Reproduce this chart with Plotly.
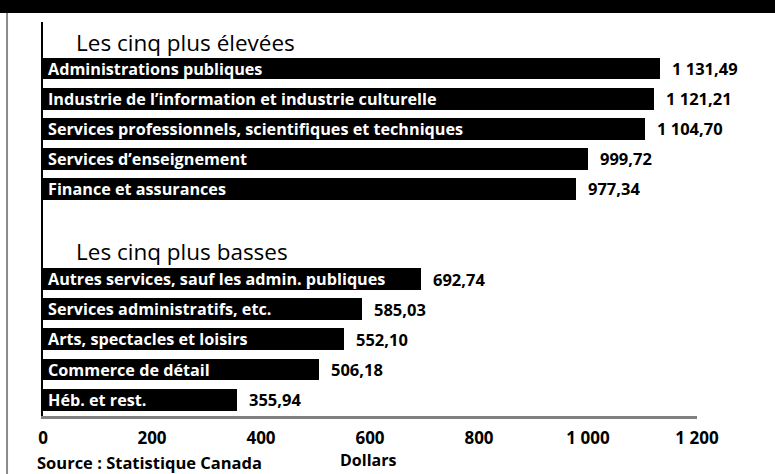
import plotly.graph_objects as go

# Data
top_labels = [
    "Administrations publiques",
    "Industrie de l’information et industrie culturelle",
    "Services professionnels, scientifiques et techniques",
    "Services d’enseignement",
    "Finance et assurances",
]
top_values = [1131.49, 1121.21, 1104.70, 999.72, 977.34]

low_labels = [
    "Autres services, sauf les admin. publiques",
    "Services administratifs, etc.",
    "Arts, spectacles et loisirs",
    "Commerce de détail",
    "Héb. et rest.",
]
low_values = [692.74, 585.03, 552.10, 506.18, 355.94]

group_titles = ["Les cinq plus élevées", "Les cinq plus basses"]
tick_values = [0, 200, 400, 600, 800, 1000, 1200]
x_title = "Dollars"
source = "Source : Statistique Canada"


def fr(v):
    s = f"{v:,.2f}"
    return s.replace(",", " ").replace(".", ",")


FONT = "Open Sans"
labels = top_labels + low_labels
values = top_values + low_values
ypos = list(range(len(top_labels))) + [i + len(top_labels) + 2 for i in range(len(low_labels))]

fig = go.Figure()
fig.add_trace(go.Bar(
    x=values, y=ypos, orientation="h", width=0.73,
    marker=dict(color="black", line=dict(width=0)),
    hoverinfo="skip", showlegend=False,
))

annotations = []
for lab, v, y in zip(labels, values, ypos):
    annotations.append(dict(
        x=0, y=y, xref="x", yref="y", text=lab, showarrow=False,
        xanchor="left", yanchor="middle", xshift=4, borderpad=0,
        font=dict(family=FONT, size=16.2, color="white", weight=700),
    ))
    annotations.append(dict(
        x=v, y=y, xref="x", yref="y", text=fr(v), showarrow=False,
        xanchor="left", yanchor="middle", xshift=10,
        font=dict(family=FONT, size=16.5, color="black", weight=700),
    ))

title_y = [-0.86, len(top_labels) + 1.08]
for t, ty in zip(group_titles, title_y):
    annotations.append(dict(
        x=0, y=ty, xref="x", yref="y", text=t, showarrow=False,
        xanchor="left", yanchor="middle", xshift=32, borderpad=0,
        font=dict(family=FONT, size=22.5, color="black", weight=400),
    ))

annotations.append(dict(
    x=0.497, y=-0.112, xref="paper", yref="paper", text=x_title, showarrow=False,
    xanchor="center", yanchor="middle",
    font=dict(family=FONT, size=16, color="black", weight=700),
))
annotations.append(dict(
    x=-0.012, y=-0.117, xref="paper", yref="paper", text=source, showarrow=False,
    xanchor="left", yanchor="middle",
    font=dict(family=FONT, size=16.5, color="black", weight=700),
))

shapes = [
    # black header band
    dict(type="rect", xref="paper", yref="paper", x0=-0.07, x1=1.13, y0=1.023, y1=1.08,
         fillcolor="black", line=dict(width=0), layer="above"),
    # left frame line
    dict(type="line", xref="paper", yref="paper", x0=-0.055, x1=-0.055, y0=1.023, y1=-0.2,
         line=dict(color="#8a8a8a", width=2)),
]

fig.update_layout(
    width=775, height=474,
    margin=dict(l=43, r=78, t=22, b=58),
    paper_bgcolor="white", plot_bgcolor="white",
    separators=", ",
    bargap=0,
    xaxis=dict(
        range=[0, 1200], tickvals=tick_values, separatethousands=True,
        showgrid=False, zeroline=False,
        showline=True, linecolor="#808080", linewidth=3,
        ticks="outside", ticklen=5, tickcolor="rgba(0,0,0,0)",
        tickfont=dict(family=FONT, size=17, color="black", weight=700),
    ),
    yaxis=dict(
        range=[11.545, -1.545], showticklabels=False, showgrid=False, zeroline=False,
        showline=True, linecolor="black", linewidth=1.5, ticks="",
    ),
    annotations=annotations,
    shapes=shapes,
)

fig.write_html(
    "out.html",
    config={"displayModeBar": False},
    post_script="document.body.style.margin='0';document.body.style.overflow='hidden';",
)
